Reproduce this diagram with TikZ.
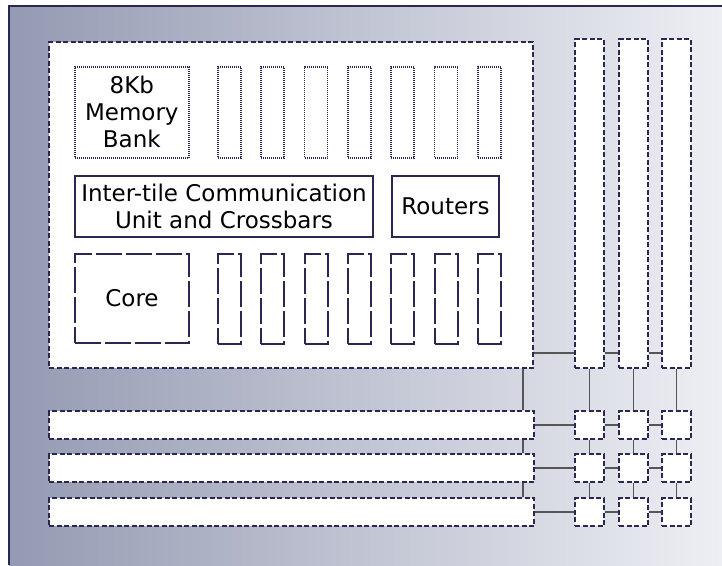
\documentclass[tikz,border=0pt]{standalone}
\usepackage{fontspec}
\setmainfont{DejaVu Sans}
\definecolor{inkc}{RGB}{42,40,82}
\definecolor{wirec}{RGB}{85,85,85}
\definecolor{bgl}{RGB}{148,154,178}
\definecolor{bgr}{RGB}{238,239,244}
\begin{document}
\begin{tikzpicture}[x=1pt,y=-1pt,
  ink/.style={draw=inkc, line width=2pt, fill=white, inner sep=0pt, anchor=north west},
  dsh/.style={ink, dash pattern=on 5pt off 2.5pt},
  dots/.style={ink, line width=1.6pt, dash pattern=on 1pt off 1pt},
  longdsh/.style={ink, dash pattern=on 26pt off 4pt},
  wire/.style={draw=wirec, line width=1.8pt},
  lbl/.style={font=\fontsize{23}{27}\selectfont, align=center}]
\useasboundingbox (0,0) rectangle (722,565);
\fill[left color=bgl, right color=bgr] (9,6) rectangle (722,565);
\draw[inkc, line width=2pt] (9,565) -- (9,6) -- (722,6);

% main tile
\node[dsh, minimum width=484pt, minimum height=326pt] (tile) at (48,41) {};
\node[dots, lbl, minimum width=114pt, minimum height=91pt] (mem) at (74,66) {8Kb\\Memory\\Bank};
\foreach \i/\x in {1/217,2/260.3,3/303.7,4/347,5/390.3,6/433.7,7/477}
  \node[dots, minimum width=23pt, minimum height=91pt] (tb\i) at (\x,66) {};
\node[ink, lbl, minimum width=298pt, minimum height=61pt] (itc) at (74,175) {Inter-tile Communication\\Unit and Crossbars};
\node[ink, lbl, minimum width=107pt, minimum height=61pt] (rout) at (391,175) {Routers};
\node[longdsh, lbl, minimum width=114pt, minimum height=89pt] (core) at (74,253) {Core};
\foreach \i/\x in {1/217,2/260.3,3/303.7,4/347,5/390.3,6/433.7,7/477}
  \node[longdsh, minimum width=23pt, minimum height=90pt] (lb\i) at (\x,253) {};

% vertical bars
\foreach \c/\x in {1/574,2/618,3/661}
  \node[dsh, minimum width=29pt, minimum height=329pt] (vb\c) at (\x,38) {};
% horizontal bars
\foreach \r/\y in {1/410,2/453,3/497}
  \node[dsh, minimum width=485pt, minimum height=28pt] (hb\r) at (48,\y) {};
% small squares
\foreach \r/\y in {1/410,2/453,3/497}
  \foreach \c/\x in {1/574,2/618,3/661}
    \node[dsh, minimum width=29pt, minimum height=28pt] (s\r\c) at (\x,\y) {};

% wires
\coordinate (w0) at ([yshift=16pt]tile.south east);
\draw[wire] (w0) -- (w0 -| vb1.west);
\draw[wire] (vb1.east |- w0) -- (vb2.west |- w0);
\draw[wire] (vb2.east |- w0) -- (vb3.west |- w0);
\coordinate (v0) at ([xshift=-11pt]tile.south east);
\draw[wire] (v0) -- (v0 |- hb1.north);
\draw[wire] (v0 |- hb1.south) -- (v0 |- hb2.north);
\draw[wire] (v0 |- hb2.south) -- (v0 |- hb3.north);
\foreach \r in {1,2,3} {
  \draw[wire] (hb\r.east) -- (s\r1.west);
  \draw[wire] (s\r1.east) -- (s\r2.west);
  \draw[wire] (s\r2.east) -- (s\r3.west);
}
\foreach \c in {1,2,3} {
  \draw[wire] (vb\c.south) -- (s1\c.north);
  \draw[wire] (s1\c.south) -- (s2\c.north);
  \draw[wire] (s2\c.south) -- (s3\c.north);
}
\end{tikzpicture}
\end{document}
